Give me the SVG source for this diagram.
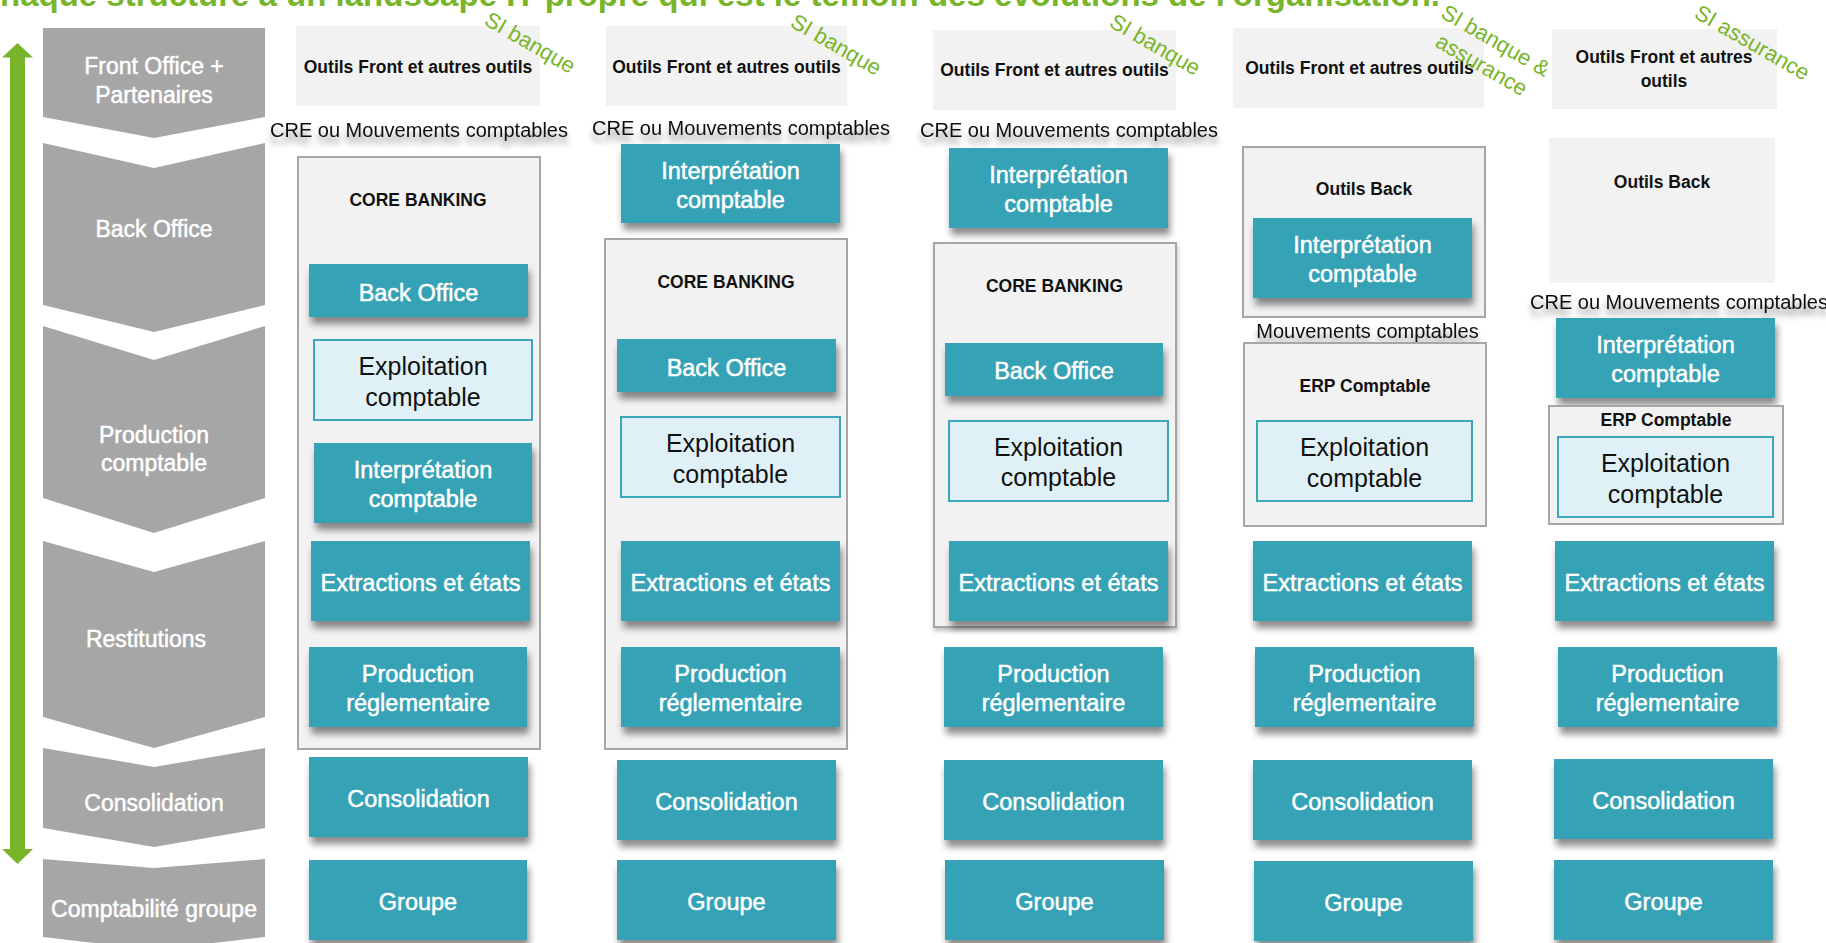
<svg xmlns="http://www.w3.org/2000/svg" width="1826" height="943" viewBox="0 0 1826 943">
<defs>
<filter id="sh" x="-10%" y="-20%" width="125%" height="160%">
<feDropShadow dx="2" dy="7" stdDeviation="3.5" flood-color="#000" flood-opacity="0.45"/>
</filter>
<filter id="tsh" x="-10%" y="-50%" width="120%" height="250%">
<feGaussianBlur in="SourceAlpha" stdDeviation="3"/>
<feOffset dx="0" dy="7" result="b"/>
<feComponentTransfer><feFuncA type="linear" slope="0.45"/></feComponentTransfer>
<feMerge><feMergeNode/><feMergeNode in="SourceGraphic"/></feMerge>
</filter>
<filter id="csh" x="-5%" y="-5%" width="115%" height="115%">
<feDropShadow dx="1" dy="3" stdDeviation="2" flood-color="#000" flood-opacity="0.25"/>
</filter>
</defs>
<style>
text{font-family:"Liberation Sans",Arial,sans-serif}
.chev{fill:#A6A6A6}
.ct{fill:#fff;font-size:23px;text-anchor:middle;stroke:#fff;stroke-width:0.5}
.top{fill:#F2F2F2}
.cont{fill:#F2F2F2;stroke:#A6A6A6;stroke-width:2}
.teal{fill:#35A2B5;filter:url(#sh)}
.tt{fill:#fff;font-size:23.5px;text-anchor:middle;stroke:#fff;stroke-width:0.5}
.expl{fill:#DFF1F6;stroke:#3BA7B9;stroke-width:2}
.et{fill:#111;font-size:25px;text-anchor:middle}
.bl{fill:#111;font-size:17.5px;font-weight:bold;text-anchor:middle}
.cre{fill:#111;font-size:20px;text-anchor:middle;filter:url(#tsh)}
.si{fill:#78B52A;font-size:22px}
.title{fill:#78B52A;font-size:33px;font-weight:bold}
</style>
<rect width="1826" height="943" fill="#fff"/>

<text class="title" x="0" y="6" textLength="1440" lengthAdjust="spacingAndGlyphs">haque structure a un landscape IT propre qui est le témoin des évolutions de l'organisation.</text>

<!-- left chevrons -->
<g id="lane-front">
<polygon class="chev" points="43,28 265,28 265,117 154,138 43,117"/>
<text class="ct" x="154" y="74">Front Office +</text>
<text class="ct" x="154" y="103">Partenaires</text>
</g>
<g id="lane-back">
<polygon class="chev" points="43,143 154,168 265,143 265,305 154,332 43,305"/>
<text class="ct" x="154" y="237">Back Office</text>
</g>
<g id="lane-prod">
<polygon class="chev" points="43,326 154,360 265,326 265,498 154,533 43,498"/>
<text class="ct" x="154" y="443">Production</text>
<text class="ct" x="154" y="471">comptable</text>
</g>
<g id="lane-rest">
<polygon class="chev" points="43,541 154,572 265,541 265,717 154,748 43,717"/>
<text class="ct" x="146" y="647">Restitutions</text>
</g>
<g id="lane-conso">
<polygon class="chev" points="43,748 154,767 265,748 265,828 154,847 43,828"/>
<text class="ct" x="154" y="811">Consolidation</text>
</g>
<g id="lane-groupe">
<polygon class="chev" points="43,859 154,868 265,859 265,937 154,950 43,937"/>
<text class="ct" x="154" y="917">Comptabilité groupe</text>
</g>

<g id="connectors">
<polygon fill="#78B52A" points="17.5,43 33,57.5 25,57.5 25,849 33,849 17.5,864 2,849 10,849 10,57.5 2,57.5"/>
</g>

<!-- Column 1 -->
<g id="c1-front"><rect class="top" x="296" y="26" width="244" height="80"/><text class="bl" x="418" y="73">Outils Front et autres outils</text></g>
<g id="c1-si"><text class="si" transform="translate(483,24) rotate(30)">SI banque</text></g>
<g id="c1-cre"><text class="cre" x="419" y="137">CRE ou Mouvements comptables</text></g>
<g id="c1-core"><rect class="cont" x="298" y="157" width="242" height="592"/><text class="bl" x="418" y="206">CORE BANKING</text></g>
<g id="c1-bo"><rect class="teal" x="309" y="264" width="219" height="53"/><text class="tt" x="418.5" y="300.5">Back Office</text></g>
<g id="c1-expl"><rect class="expl" x="314" y="340" width="218" height="80"/><text class="et" x="423" y="375">Exploitation</text><text class="et" x="423" y="406">comptable</text></g>
<g id="c1-interp"><rect class="teal" x="314" y="443" width="218" height="80"/><text class="tt" x="423" y="478">Interprétation</text><text class="tt" x="423" y="507">comptable</text></g>
<g id="c1-extr"><rect class="teal" x="311" y="541" width="219" height="80"/><text class="tt" x="420.5" y="591">Extractions et états</text></g>
<g id="c1-prod"><rect class="teal" x="309" y="647" width="218" height="80"/><text class="tt" x="418" y="682">Production</text><text class="tt" x="418" y="711">réglementaire</text></g>
<g id="c1-conso"><rect class="teal" x="309" y="757" width="219" height="80"/><text class="tt" x="418.5" y="807">Consolidation</text></g>
<g id="c1-groupe"><rect class="teal" x="309" y="860" width="218" height="80"/><text class="tt" x="418" y="910">Groupe</text></g>

<!-- Column 2 -->
<g id="c2-front"><rect class="top" x="606" y="26" width="241" height="80"/><text class="bl" x="726.5" y="73">Outils Front et autres outils</text></g>
<g id="c2-si"><text class="si" transform="translate(789,26) rotate(30)">SI banque</text></g>
<g id="c2-cre"><text class="cre" x="741" y="135">CRE ou Mouvements comptables</text></g>
<g id="c2-interp"><rect class="teal" x="621" y="144" width="219" height="79"/><text class="tt" x="730.5" y="179">Interprétation</text><text class="tt" x="730.5" y="208">comptable</text></g>
<g id="c2-core"><rect class="cont" x="605" y="239" width="242" height="510"/><text class="bl" x="726" y="288">CORE BANKING</text></g>
<g id="c2-bo"><rect class="teal" x="617" y="339" width="219" height="53"/><text class="tt" x="726.5" y="375.5">Back Office</text></g>
<g id="c2-expl"><rect class="expl" x="621" y="417" width="219" height="80"/><text class="et" x="730.5" y="452">Exploitation</text><text class="et" x="730.5" y="483">comptable</text></g>
<g id="c2-extr"><rect class="teal" x="621" y="541" width="219" height="80"/><text class="tt" x="730.5" y="591">Extractions et états</text></g>
<g id="c2-prod"><rect class="teal" x="621" y="647" width="219" height="80"/><text class="tt" x="730.5" y="682">Production</text><text class="tt" x="730.5" y="711">réglementaire</text></g>
<g id="c2-conso"><rect class="teal" x="617" y="760" width="219" height="80"/><text class="tt" x="726.5" y="810">Consolidation</text></g>
<g id="c2-groupe"><rect class="teal" x="617" y="860" width="219" height="80"/><text class="tt" x="726.5" y="910">Groupe</text></g>

<!-- Column 3 -->
<g id="c3-front"><rect class="top" x="933" y="30" width="243" height="80"/><text class="bl" x="1054.5" y="76">Outils Front et autres outils</text></g>
<g id="c3-si"><text class="si" transform="translate(1108,26) rotate(30)">SI banque</text></g>
<g id="c3-cre"><text class="cre" x="1069" y="137">CRE ou Mouvements comptables</text></g>
<g id="c3-interp"><rect class="teal" x="949" y="148" width="219" height="80"/><text class="tt" x="1058.5" y="183">Interprétation</text><text class="tt" x="1058.5" y="212">comptable</text></g>
<g id="c3-core"><rect class="cont" x="934" y="243" width="242" height="384" style="filter:url(#csh)"/><text class="bl" x="1054.5" y="292">CORE BANKING</text></g>
<g id="c3-bo"><rect class="teal" x="945" y="343" width="218" height="53"/><text class="tt" x="1054" y="379">Back Office</text></g>
<g id="c3-expl"><rect class="expl" x="949" y="421" width="219" height="80"/><text class="et" x="1058.5" y="456">Exploitation</text><text class="et" x="1058.5" y="486">comptable</text></g>
<g id="c3-extr"><rect class="teal" x="949" y="541" width="219" height="80"/><text class="tt" x="1058.5" y="591">Extractions et états</text></g>
<g id="c3-prod"><rect class="teal" x="944" y="647" width="219" height="80"/><text class="tt" x="1053.5" y="682">Production</text><text class="tt" x="1053.5" y="711">réglementaire</text></g>
<g id="c3-conso"><rect class="teal" x="944" y="760" width="219" height="80"/><text class="tt" x="1053.5" y="810">Consolidation</text></g>
<g id="c3-groupe"><rect class="teal" x="945" y="860" width="219" height="80"/><text class="tt" x="1054.5" y="910">Groupe</text></g>

<!-- Column 4 -->
<g id="c4-front"><rect class="top" x="1233" y="28" width="251" height="80"/><text class="bl" x="1359.5" y="74">Outils Front et autres outils</text></g>
<g id="c4-si"><g transform="translate(1440,17) rotate(30)"><text class="si" x="60" y="0" text-anchor="middle">SI banque &amp;</text><text class="si" x="60" y="28" text-anchor="middle">assurance</text></g></g>
<g id="c4-back"><rect class="cont" x="1243" y="147" width="242" height="170"/><text class="bl" x="1364" y="195">Outils Back</text></g>
<g id="c4-interp"><rect class="teal" x="1253" y="218" width="219" height="80"/><text class="tt" x="1362.5" y="253">Interprétation</text><text class="tt" x="1362.5" y="282">comptable</text></g>
<g id="c4-mvt"><text class="cre" x="1367.5" y="338">Mouvements comptables</text></g>
<g id="c4-erp"><rect class="cont" x="1244" y="343" width="242" height="183"/><text class="bl" x="1365" y="392">ERP Comptable</text></g>
<g id="c4-expl"><rect class="expl" x="1257" y="421" width="215" height="80"/><text class="et" x="1364.5" y="456">Exploitation</text><text class="et" x="1364.5" y="487">comptable</text></g>
<g id="c4-extr"><rect class="teal" x="1253" y="541" width="219" height="80"/><text class="tt" x="1362.5" y="591">Extractions et états</text></g>
<g id="c4-prod"><rect class="teal" x="1255" y="647" width="219" height="80"/><text class="tt" x="1364.5" y="682">Production</text><text class="tt" x="1364.5" y="711">réglementaire</text></g>
<g id="c4-conso"><rect class="teal" x="1253" y="760" width="219" height="80"/><text class="tt" x="1362.5" y="810">Consolidation</text></g>
<g id="c4-groupe"><rect class="teal" x="1254" y="861" width="219" height="80"/><text class="tt" x="1363.5" y="911">Groupe</text></g>

<!-- Column 5 -->
<g id="c5-front"><rect class="top" x="1552" y="29" width="225" height="80"/><text class="bl" x="1664" y="63">Outils Front et autres</text><text class="bl" x="1664" y="87">outils</text></g>
<g id="c5-si"><text class="si" transform="translate(1693,17) rotate(30)">SI assurance</text></g>
<g id="c5-back"><rect class="top" x="1549" y="138" width="226" height="145"/><text class="bl" x="1662" y="188">Outils Back</text></g>
<g id="c5-cre"><text class="cre" x="1679" y="309">CRE ou Mouvements comptables</text></g>
<g id="c5-interp"><rect class="teal" x="1556" y="318" width="219" height="80"/><text class="tt" x="1665.5" y="353">Interprétation</text><text class="tt" x="1665.5" y="382">comptable</text></g>
<g id="c5-erp"><rect class="cont" x="1549" y="406" width="234" height="118"/><text class="bl" x="1666" y="426">ERP Comptable</text></g>
<g id="c5-expl"><rect class="expl" x="1558" y="437" width="215" height="80"/><text class="et" x="1665.5" y="472">Exploitation</text><text class="et" x="1665.5" y="503">comptable</text></g>
<g id="c5-extr"><rect class="teal" x="1555" y="541" width="219" height="80"/><text class="tt" x="1664.5" y="591">Extractions et états</text></g>
<g id="c5-prod"><rect class="teal" x="1558" y="647" width="219" height="80"/><text class="tt" x="1667.5" y="682">Production</text><text class="tt" x="1667.5" y="711">réglementaire</text></g>
<g id="c5-conso"><rect class="teal" x="1554" y="759" width="219" height="80"/><text class="tt" x="1663.5" y="809">Consolidation</text></g>
<g id="c5-groupe"><rect class="teal" x="1554" y="860" width="219" height="80"/><text class="tt" x="1663.5" y="910">Groupe</text></g>
</svg>
